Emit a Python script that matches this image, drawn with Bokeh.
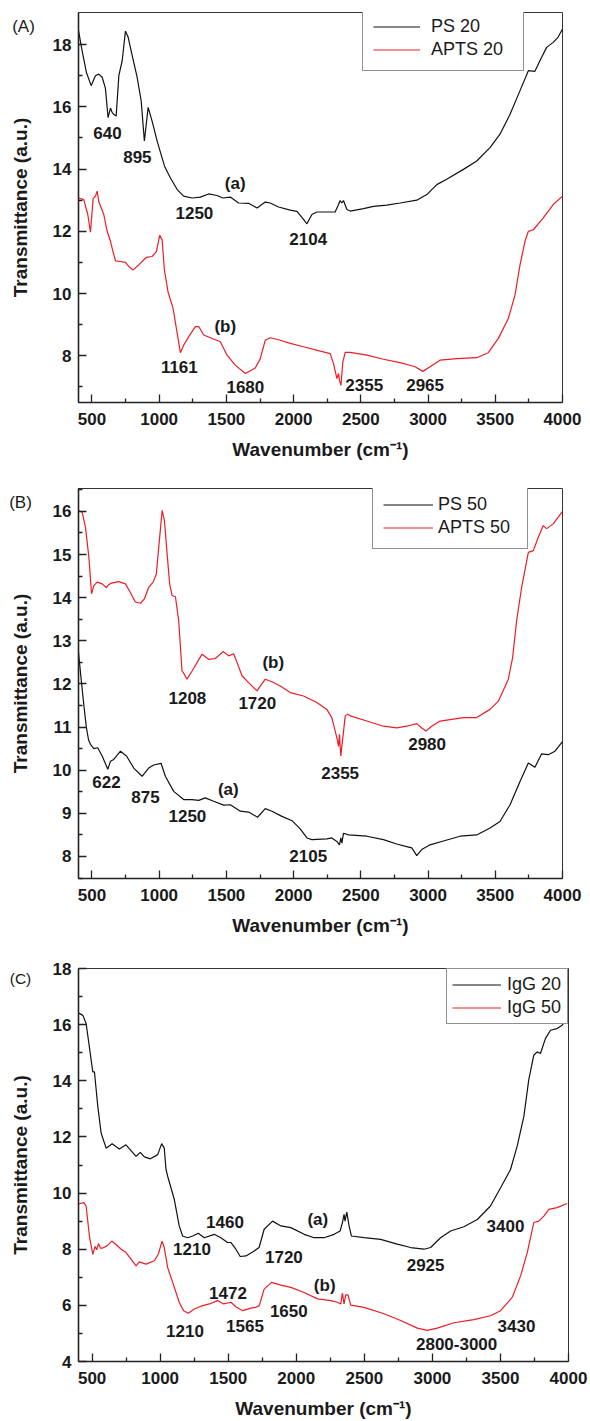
from bokeh.plotting import figure
from bokeh.layouts import column
from bokeh.models import FixedTicker, Label, Legend, LegendItem, ColumnDataSource, Range1d
from bokeh.core.properties import value
from bokeh.embed import file_html
from bokeh.resources import INLINE

# ---------------- data (wavenumber, transmittance) ----------------
ps20 = [(400,18.45),(427,17.8),(459,17.1),(494,16.68),(526,17.0),(551,17.05),(576,16.95),(600,16.6),
        (620,15.65),(638,15.96),(650,15.82),(662,15.76),(680,15.7),(700,17.0),(725,17.48),(749,18.43),
        (769,18.24),(799,17.65),(836,16.95),(866,16.2),(890,14.9),(918,15.98),(947,15.55),(985,14.9),
        (1014,14.47),(1039,14.1),(1083,13.72),(1133,13.35),(1182,13.13),(1245,13.07),(1306,13.1),
        (1368,13.2),(1430,13.15),(1475,13.07),(1529,13.1),(1591,12.91),(1665,12.9),(1728,12.75),
        (1789,12.94),(1826,12.91),(1888,12.78),(1975,12.68),(2025,12.64),(2074,12.38),(2099,12.24),
        (2136,12.54),(2173,12.62),(2235,12.62),(2309,12.62),(2334,12.86),(2346,12.99),(2359,12.91),
        (2371,12.99),(2396,12.7),(2421,12.65),(2520,12.73),(2594,12.8),(2693,12.84),(2792,12.91),
        (2916,13.0),(2991,13.18),(3065,13.5),(3139,13.67),(3263,13.99),(3362,14.26),(3461,14.69),
        (3535,15.12),(3610,15.76),(3684,16.52),(3746,17.16),(3795,17.14),(3832,17.48),(3882,17.91),
        (3931,18.07),(3968,18.24),(4000,18.5)]
apts20 = [(400,13.07),(439,13.02),(469,12.54),(489,11.97),(509,13.05),(526,13.13),(539,13.29),(551,12.95),
          (588,12.54),(613,12.0),(638,11.68),(650,11.46),(675,11.05),(712,11.03),(749,11.0),(774,10.87),
          (806,10.76),(848,10.92),(903,11.16),(947,11.19),(979,11.35),(1004,11.87),(1022,11.73),
          (1039,10.75),(1059,10.24),(1066,10.05),(1103,9.53),(1128,8.88),(1158,8.1),(1182,8.34),
          (1219,8.61),(1269,8.94),(1294,8.94),(1331,8.67),(1405,8.54),(1455,8.45),(1505,8.02),
          (1566,7.7),(1641,7.43),(1715,7.61),(1752,7.91),(1789,8.5),(1826,8.58),(1901,8.5),(1975,8.4),
          (2074,8.29),(2198,8.15),(2272,8.07),(2297,7.75),(2322,7.27),(2334,7.43),(2341,7.21),
          (2352,7.05),(2366,7.8),(2384,8.11),(2421,8.11),(2545,8.02),(2668,7.89),(2792,7.78),
          (2904,7.65),(2961,7.5),(3015,7.65),(3089,7.86),(3213,7.91),(3362,7.94),(3448,8.1),
          (3523,8.56),(3597,9.2),(3647,9.96),(3684,10.92),(3721,11.68),(3746,12.0),(3783,12.05),
          (3857,12.43),(3931,12.86),(4000,13.13)]
ps50 = [(400,12.73),(420,12.1),(440,11.5),(459,10.98),(475,10.7),(489,10.6),(514,10.5),(543,10.52),
        (576,10.33),(618,10.02),(638,10.21),(662,10.25),(712,10.44),(757,10.33),(811,10.05),(873,9.86),
        (922,10.05),(959,10.12),(1014,10.16),(1046,9.86),(1108,9.51),(1182,9.32),(1245,9.32),
        (1294,9.3),(1343,9.36),(1405,9.28),(1480,9.19),(1529,9.2),(1604,9.05),(1665,9.03),(1732,8.91),
        (1789,9.11),(1839,9.05),(1913,8.93),(1988,8.83),(2049,8.64),(2099,8.43),(2136,8.39),
        (2247,8.41),(2284,8.43),(2322,8.35),(2341,8.27),(2351,8.43),(2359,8.31),(2371,8.54),
        (2408,8.5),(2545,8.47),(2668,8.39),(2767,8.29),(2841,8.23),(2879,8.2),(2916,8.02),(2953,8.16),
        (3015,8.27),(3114,8.36),(3238,8.47),(3362,8.5),(3461,8.66),(3535,8.81),(3610,9.2),(3684,9.74),
        (3746,10.17),(3795,10.07),(3845,10.38),(3894,10.36),(3944,10.44),(4000,10.66)]
apts50 = [(400,16.02),(427,15.98),(452,15.63),(477,14.94),(497,14.09),(514,14.28),(539,14.36),(576,14.32),
          (608,14.23),(618,14.28),(638,14.33),(700,14.37),(749,14.32),(786,14.12),(823,13.9),(861,13.87),
          (890,13.97),(922,14.24),(955,14.36),(979,14.55),(997,15.17),(1022,16.02),(1039,15.79),
          (1059,15.02),(1078,14.32),(1096,14.05),(1121,14.02),(1145,13.47),(1170,12.3),(1182,12.25),
          (1207,12.11),(1245,12.3),(1319,12.69),(1368,12.57),(1418,12.59),(1475,12.75),(1517,12.65),
          (1554,12.7),(1579,12.5),(1616,12.19),(1665,12.03),(1728,11.84),(1752,11.95),(1789,12.11),
          (1839,12.05),(1901,11.95),(1975,11.8),(2074,11.72),(2173,11.57),(2247,11.41),(2284,11.22),
          (2322,10.75),(2334,10.55),(2341,10.83),(2351,10.33),(2366,10.75),(2384,11.26),(2401,11.3),
          (2421,11.26),(2545,11.14),(2668,11.02),(2767,10.98),(2841,11.02),(2916,11.08),(2953,10.98),
          (2985,10.91),(3027,11.02),(3089,11.14),(3263,11.22),(3362,11.22),(3461,11.41),(3523,11.6),
          (3597,12.11),(3629,12.61),(3659,13.47),(3696,14.24),(3746,15.05),(3783,15.09),(3820,15.4),
          (3857,15.67),(3882,15.6),(3931,15.71),(4000,16.0)]
igg20 = [(402,16.41),(432,16.33),(456,16.04),(480,15.2),(505,14.32),(517,14.32),(542,13.08),(566,12.14),
         (603,11.6),(647,11.76),(700,11.57),(749,11.72),(823,11.31),(854,11.45),(884,11.29),(928,11.22),
         (982,11.37),(1011,11.76),(1030,11.6),(1043,10.84),(1055,10.6),(1104,9.77),(1140,8.83),
         (1165,8.47),(1202,8.41),(1239,8.47),(1280,8.57),(1324,8.41),(1397,8.53),(1446,8.41),
         (1495,8.24),(1519,8.24),(1556,8.0),(1588,7.74),(1630,7.76),(1691,7.94),(1727,8.06),
         (1764,8.71),(1826,9.0),(1887,8.83),(1960,8.77),(2058,8.53),(2131,8.41),(2204,8.41),
         (2278,8.53),(2322,8.65),(2339,8.95),(2351,9.24),(2358,9.0),(2371,9.32),(2388,8.83),
         (2405,8.47),(2498,8.41),(2620,8.35),(2742,8.18),(2840,8.06),(2938,8.0),(2987,8.06),
         (3060,8.41),(3134,8.65),(3231,8.8),(3330,9.06),(3427,9.54),(3501,10.19),(3574,10.84),
         (3623,11.67),(3672,12.73),(3708,14.03),(3745,14.91),(3770,15.03),(3794,14.97),(3831,15.51),
         (3868,15.8),(3916,15.86),(3953,15.98),(4000,16.25)]
igg50 = [(402,9.62),(439,9.66),(456,9.54),(480,8.47),(505,7.82),(522,8.1),(534,7.98),(547,8.2),(561,8.04),
         (578,8.04),(610,8.12),(644,8.29),(676,8.17),(713,8.0),(749,7.88),(786,7.65),(823,7.41),
         (847,7.55),(896,7.47),(957,7.59),(986,7.82),(1014,8.29),(1030,8.06),(1055,7.35),(1092,6.82),
         (1140,6.11),(1172,5.81),(1207,5.72),(1251,5.87),(1300,5.97),(1361,6.05),(1422,6.17),
         (1466,6.05),(1520,6.11),(1556,5.95),(1606,5.81),(1667,5.9),(1703,5.93),(1728,5.99),
         (1764,6.58),(1818,6.82),(1887,6.72),(1960,6.64),(2058,6.46),(2156,6.23),(2253,6.17),
         (2302,6.11),(2327,6.05),(2339,6.44),(2351,6.05),(2363,6.37),(2380,6.37),(2400,6.01),
         (2498,5.93),(2645,5.7),(2767,5.46),(2889,5.19),(2963,5.11),(3036,5.19),(3158,5.38),
         (3305,5.49),(3427,5.63),(3501,5.81),(3587,6.29),(3648,7.05),(3697,7.88),(3745,8.95),
         (3782,9.0),(3819,9.18),(3855,9.42),(3916,9.48),(3990,9.63)]

# peak annotations: (wavenumber, transmittance, text)
ann_a = [(615,15.16,"640"),(838,14.39,"895"),(1566,13.55,"(a)"),(1262,12.58,"1250"),(2109,11.74,"2104"),
         (1492,8.94,"(b)"),(1150,7.65,"1161"),(1641,7.0,"1680"),(2525,7.06,"2355"),(2978,7.06,"2965")]
ann_b = [(1210,11.67,"1208"),(1730,11.56,"1720"),(1849,12.49,"(b)"),(2346,9.93,"2355"),(2993,10.6,"2980"),
         (608,9.72,"622"),(898,9.37,"875"),(1210,8.95,"1250"),(1514,9.56,"(a)"),(2109,8.0,"2105")]
ann_c = [(1476,8.96,"1460"),(1234,8.0,"1210"),(1909,7.72,"1720"),(1498,6.44,"1472"),(1182,5.09,"1210"),
         (1623,5.27,"1565"),(1945,5.8,"1650"),(2158,9.06,"(a)"),(2209,6.69,"(b)"),(2950,7.43,"2925"),
         (3537,8.82,"3400"),(3618,5.27,"3430"),(3178,4.63,"2800-3000")]

x_major = [500, 1000, 1500, 2000, 2500, 3000, 3500, 4000]
x_minor = [750, 1250, 1750, 2250, 2750, 3250, 3750]
ya_major = [8, 10, 12, 14, 16, 18]
ya_minor = [7, 9, 11, 13, 15, 17]
yb_major = [8, 9, 10, 11, 12, 13, 14, 15, 16]
yb_minor = [7.5, 8.5, 9.5, 10.5, 11.5, 12.5, 13.5, 14.5, 15.5, 16.5]
yc_major = [4, 6, 8, 10, 12, 14, 16, 18]
yc_minor = [5, 7, 9, 11, 13, 15, 17]

FONT = "Liberation Sans"
BLACK = "#111111"
RED = "#ee1c24"
FRAME_LEFT = 78
FIG_W = 590


def panel(height, top, bottom, right, yr, ymaj, ymin, curves, names, ann, plabel, ppos, psize, legend_loc, leg):
    p = figure(width=FIG_W, height=height, x_range=Range1d(400, 4000), y_range=Range1d(*yr),
               output_backend="svg", toolbar_location=None,
               min_border_left=FRAME_LEFT, min_border_right=right, min_border_top=top, min_border_bottom=bottom)
    p.xgrid.visible = False
    p.ygrid.visible = False
    p.outline_line_color = "#333333"
    p.outline_line_width = 1
    p.background_fill_color = "white"
    p.border_fill_color = "white"
    p.xaxis.ticker = FixedTicker(ticks=x_major, minor_ticks=x_minor)
    p.yaxis.ticker = FixedTicker(ticks=ymaj, minor_ticks=ymin)
    for ax in (p.xaxis[0], p.yaxis[0]):
        ax.major_tick_in = 8
        ax.major_tick_out = 0
        ax.minor_tick_in = 4
        ax.minor_tick_out = 0
        ax.axis_line_width = 1.6
        ax.axis_line_color = "#222222"
        ax.major_tick_line_color = "#222222"
        ax.minor_tick_line_color = "#222222"
        ax.major_tick_line_width = 1.3
        ax.minor_tick_line_width = 1.3
        ax.major_label_text_font = FONT
        ax.major_label_text_font_style = "bold"
        ax.major_label_text_font_size = "17px"
        ax.major_label_text_color = "#1a1a1a"
        ax.axis_label_text_font = FONT
        ax.axis_label_text_font_style = "bold"
        ax.axis_label_text_font_size = "19px"
        ax.axis_label_text_color = "#1a1a1a"
    p.xaxis.major_label_standoff = 10
    p.yaxis.major_label_standoff = 7
    p.xaxis.axis_label = "Wavenumber (cm\u207b\u00b9)"
    p.yaxis.axis_label = "Transmittance (a.u.)"
    p.xaxis.axis_label_standoff = 11
    p.yaxis.axis_label_standoff = 19

    items = []
    for data, color, name in zip(curves, (BLACK, RED), names):
        src = ColumnDataSource(dict(x=[d[0] for d in data], y=[d[1] for d in data]))
        r = p.line("x", "y", source=src, line_color=color, line_width=1.2)
        items.append(LegendItem(label=name, renderers=[r]))

    asrc = ColumnDataSource(dict(x=[a[0] for a in ann], y=[a[1] for a in ann], t=[a[2] for a in ann]))
    p.text("x", "y", text="t", source=asrc, text_font=value(FONT), text_font_style="bold",
           text_font_size="17px", text_color="#1a1a1a", text_align="center", text_baseline="middle")

    # panel letter: placed in the (empty) right side panel, positioned back to the canvas' left margin
    frame_right = FIG_W - right
    lab = Label(x=ppos[0] - frame_right, y=ppos[1], x_units="screen", y_units="screen", text=plabel,
                text_font=FONT, text_font_size=psize, text_color="#1a1a1a",
                text_align="center", text_baseline="middle")
    p.add_layout(lab, "right")

    pad, gw, sp, rh, stand, lw = leg
    legend = Legend(items=items, location=legend_loc, margin=0, padding=pad, spacing=sp,
                    glyph_width=gw, glyph_height=rh, label_height=rh, label_standoff=stand, label_width=lw,
                    label_text_font=FONT, label_text_font_size="18px", label_text_color="#1a1a1a",
                    border_line_color="#222222", border_line_width=1, background_fill_alpha=1)
    p.add_layout(legend, "center")
    return p


pa = panel(470, 12, 68, 28, (6.5, 19.03), ya_major, ya_minor, (ps20, apts20), ("PS 20", "APTS 20"),
           ann_a, "(A)", (23, 376), "17px", (284, 331), (10, 47, 2, 19, 11, 82))
pb = panel(475, 18, 67, 28, (7.49, 16.53), yb_major, yb_minor, (ps50, apts50), ("PS 50", "APTS 50"),
           ann_b, "(B)", (20, 376), "17px", (294, 329), (10, 50, 2, 19, 5, 79))
pc = panel(476, 23, 58, 22, (4, 18), yc_major, yc_minor, (igg20, igg50), ("IgG 20", "IgG 50"),
           ann_c, "(C)", (20, 383), "15.5px", "top_right", (5, 49, 2, 21, 6, 55))

layout = column(column(pa), column(pb), column(pc), spacing=0)
open("out.html", "w").write(file_html(layout, INLINE))
